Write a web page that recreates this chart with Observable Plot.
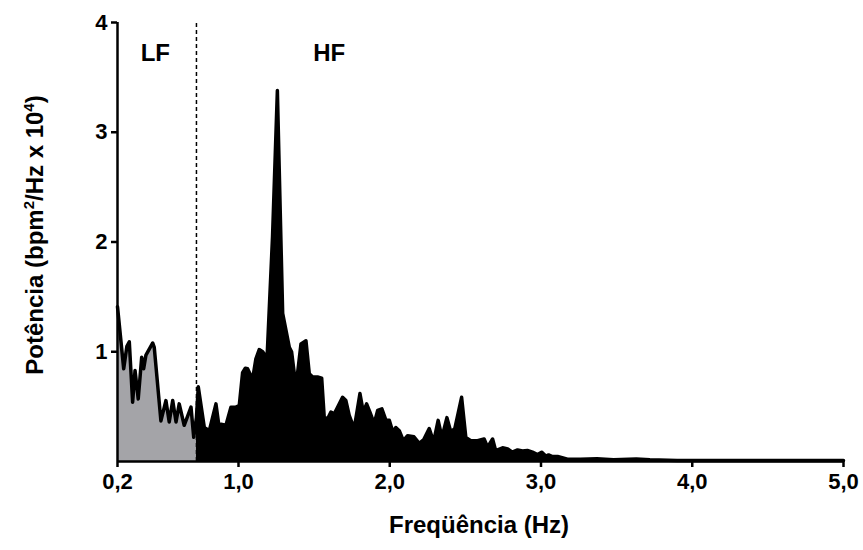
<!DOCTYPE html>
<html><head><meta charset="utf-8">
<script src="https://cdn.jsdelivr.net/npm/d3@7"></script>
<script src="https://cdn.jsdelivr.net/npm/@observablehq/plot@0.6"></script>
<style>body{margin:0;background:#fff;font-family:"Liberation Sans",Arial,sans-serif}</style>
</head><body><div id="chart"></div>
<script>
// Frequency (Hz) and power (bpm²/Hz x 10^4)
const freq = [
  0.200,0.241,0.262,0.278,0.300,0.316,0.337,0.360,0.373,0.388,0.433,0.443,0.487,0.520,0.542,0.565,0.587,0.608,0.641,0.686,0.704,0.722,
  0.734,0.774,0.807,0.851,0.870,0.884,0.917,0.950,0.983,1.005,1.027,1.045,1.060,1.093,1.115,1.137,1.160,1.170,1.186,1.225,1.257,1.292,
  1.336,1.351,1.380,1.413,1.446,1.468,1.490,1.523,1.550,1.567,1.589,1.611,1.633,1.655,1.688,1.710,1.732,1.765,1.803,1.825,1.847,1.869,
  1.897,1.920,1.948,1.975,1.997,2.020,2.040,2.063,2.090,2.118,2.160,2.195,2.225,2.261,2.290,2.320,2.345,2.378,2.404,2.430,2.475,2.503,
  2.536,2.580,2.624,2.647,2.680,2.700,2.746,2.780,2.810,2.845,2.878,2.910,2.944,2.977,3.004,3.032,3.050,3.076,3.110,3.140,3.175,3.260,
  3.370,3.480,3.630,3.720,3.900,4.200,4.600,5.000
];
const power = [
  1.41,0.845,1.05,1.09,0.54,0.83,0.57,0.95,0.845,0.97,1.08,1.04,0.37,0.555,0.36,0.555,0.36,0.525,0.33,0.495,0.22,0.40,
  0.68,0.31,0.28,0.525,0.33,0.34,0.33,0.495,0.495,0.51,0.81,0.85,0.845,0.75,0.935,1.02,1.0,0.98,0.86,2.05,3.38,1.35,
  1.04,1.0,0.68,1.07,1.10,0.80,0.77,0.77,0.76,0.40,0.39,0.45,0.435,0.495,0.585,0.555,0.42,0.30,0.62,0.45,0.525,0.45,
  0.345,0.465,0.48,0.375,0.375,0.27,0.31,0.28,0.19,0.235,0.225,0.165,0.20,0.30,0.18,0.375,0.22,0.40,0.27,0.30,0.585,0.22,
  0.19,0.19,0.205,0.13,0.205,0.10,0.125,0.115,0.085,0.105,0.095,0.10,0.085,0.064,0.085,0.05,0.06,0.045,0.045,0.034,0.021,0.02,
  0.025,0.017,0.022,0.015,0.01,0.01,0.008,0.008
];
const xTicks = [0.2, 1, 2, 3, 4, 5];
const yTicks = [1, 2, 3, 4];
const bandLimit = 0.722;
const bandLabels = ["LF", "HF"];
const bandLabelX = [0.45, 1.6];
const bandLabelY = [3.72, 3.72];

const data = freq.map((f, i) => ({f, p: power[i]}));
const lf = data.filter(d => d.f <= bandLimit);
const hf = data.filter(d => d.f >= bandLimit);
const labels = bandLabels.map((t, i) => ({t, x: bandLabelX[i], y: bandLabelY[i]}));

const plot = Plot.plot({
  width: 863, height: 550,
  marginLeft: 117, marginRight: 20, marginTop: 22, marginBottom: 89,
  style: {fontFamily: "'Liberation Sans', Arial, sans-serif", fontWeight: "bold", fontSize: "21px", color: "black", background: "white", overflow: "visible"},
  x: {domain: [0.2, 5]},
  y: {domain: [0, 4]},
  marks: [
    Plot.areaY(lf, {x: "f", y: "p", fill: "#a4a4a8"}),
    Plot.areaY(hf, {x: "f", y: "p", fill: "black"}),
    Plot.line(data, {x: "f", y: "p", stroke: "black", strokeWidth: 3.5, strokeLinejoin: "round"}),
    Plot.ruleX([bandLimit], {y1: 0, y2: 4, stroke: "black", strokeWidth: 1.5, strokeDasharray: "4,3"}),
    Plot.ruleY([0], {stroke: "black", strokeWidth: 2.5}),
    Plot.ruleX([0.2], {stroke: "black", strokeWidth: 2.5}),
    Plot.axisX(xTicks, {tickSize: 6, tickPadding: 6, strokeWidth: 2.5, tickFormat: d => d.toFixed(1).replace(".", ","), label: null, fontSize: 22, fontWeight: "bold"}),
    Plot.axisY(yTicks, {tickSize: 6, tickPadding: 4, strokeWidth: 2.5, tickFormat: d => String(d), label: null, fontSize: 22, fontWeight: "bold"}),
    Plot.text(labels, {x: "x", y: "y", text: "t", fontSize: 24, fontWeight: "bold"})
  ]
});

const svg = d3.select(plot);
svg.append("text")
  .attr("x", 479).attr("y", 533)
  .attr("text-anchor", "middle")
  .attr("font-size", 24).attr("font-weight", "bold").attr("fill", "black")
  .text("Freqüência (Hz)");
const yt = svg.append("text")
  .attr("transform", "translate(43,235) rotate(-90)")
  .attr("text-anchor", "middle")
  .attr("font-size", 24).attr("font-weight", "bold").attr("fill", "black");
yt.append("tspan").text("Potência (bpm");
yt.append("tspan").attr("dy", -9).attr("font-size", 15).text("2");
yt.append("tspan").attr("dy", 9).text("/Hz x 10");
yt.append("tspan").attr("dy", -9).attr("font-size", 15).text("4");
yt.append("tspan").attr("dy", 9).text(")");

document.getElementById("chart").appendChild(plot);
</script>
</body></html>
